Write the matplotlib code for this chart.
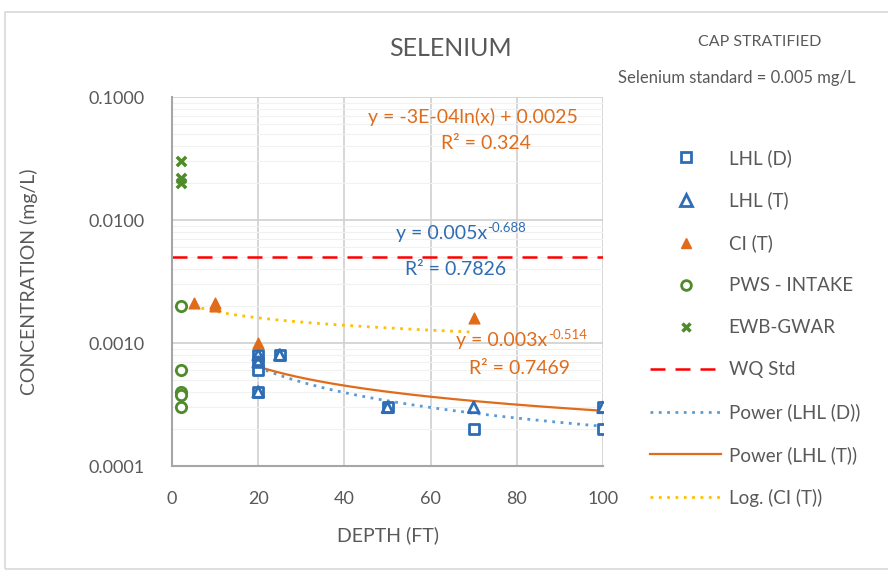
import numpy as np
import matplotlib
matplotlib.use("Agg")
import matplotlib.pyplot as plt
from matplotlib.lines import Line2D

plt.rcParams['font.family'] = ['Lato', 'DejaVu Sans']

# sample depths (ft) and selenium concentrations (mg/L)
lhl_d_depth = [20, 20, 20, 20, 25, 50, 70, 100, 100]
lhl_d_conc = [0.0008, 0.0007, 0.0006, 0.0004, 0.0008, 0.0003, 0.0002, 0.0003, 0.0002]
lhl_t_depth = [20, 20, 20, 25, 50, 70, 100]
lhl_t_conc = [0.0008, 0.0007, 0.0004, 0.0008, 0.0003, 0.0003, 0.0003]
ci_t_depth = [5, 10, 10, 20, 70]
ci_t_conc = [0.0021, 0.0021, 0.002, 0.001, 0.0016]
pws_depth = [2, 2, 2, 2, 2]
pws_conc = [0.002, 0.0006, 0.0004, 0.00038, 0.0003]
ewb_depth = [2, 2, 2]
ewb_conc = [0.03, 0.022, 0.02]
wq_std = 0.005

# trendline coefficients
pow_d = (0.005, -0.688)
pow_t = (0.003, -0.514)
log_ci = (-3e-4, 0.0025)

blue = '#2e6db4'
orange = '#e06c1b'
green = '#4f8a2b'
gray = '#595959'

fig = plt.figure(figsize=(8.88, 5.72), dpi=100)
ax = fig.add_axes([0.1937, 0.1853, 0.4854, 0.6451])

# trendlines
xd = np.linspace(20, 100, 200)
ax.plot(xd, pow_d[0] * xd ** pow_d[1], ls=(0, (1, 2)), color='#5b9bd5', lw=2)
ax.plot(xd, pow_t[0] * xd ** pow_t[1], ls='-', color=orange, lw=1.6)
xl = np.linspace(5, 70, 200)
ax.plot(xl, log_ci[0] * np.log(xl) + log_ci[1], ls=(0, (1, 2)), color='#ffc000', lw=2)
ax.axhline(wq_std, color='#ff0000', ls=(0, (6, 4)), lw=1.8)

ax.scatter(lhl_d_depth, lhl_d_conc, marker='s', s=55, facecolors='white', edgecolors=blue, linewidths=2, zorder=3)
ax.scatter(lhl_t_depth, lhl_t_conc, marker='^', s=60, facecolors='none', edgecolors=blue, linewidths=2, zorder=4)
ax.scatter(ci_t_depth, ci_t_conc, marker='^', s=60, color=orange, zorder=4)
ax.scatter(pws_depth, pws_conc, marker='o', s=55, facecolors='white', edgecolors=green, linewidths=2, zorder=3)
ax.scatter(ewb_depth, ewb_conc, marker='x', s=45, color=green, linewidths=2.5, zorder=3)

ax.set_yscale('log')
ax.set_ylim(0.0001, 0.1)
ax.set_xlim(0, 100)
ax.set_xticks([0, 20, 40, 60, 80, 100])
ax.set_yticks([0.0001, 0.001, 0.01, 0.1])
ax.set_yticklabels(['0.0001', '0.0010', '0.0100', '0.1000'])
ax.grid(True, which='major', color='#d0d0d0', lw=1.2)
ax.grid(True, which='minor', axis='y', color='#f1f1f1', lw=0.8)
ax.tick_params(which='both', length=0, labelsize=13, colors=gray)
ax.tick_params(axis='y', pad=20)
ax.tick_params(axis='x', pad=18)
for s in ['top', 'right']:
    ax.spines[s].set_visible(False)
for s in ['left', 'bottom']:
    ax.spines[s].set_color('#a6a6a6')
    ax.spines[s].set_linewidth(1.5)

ax.set_xlabel('DEPTH (FT)', fontsize=14, color=gray, labelpad=14)
ax.set_ylabel('CONCENTRATION (mg/L)', fontsize=14, color=gray, labelpad=36)


def equation(x, y, base, sup, color):
    # trendline label with a raised exponent
    t = ax.text(x, y, base, transform=ax.transAxes, ha='left', fontsize=14, color=color)
    if sup:
        ax.annotate(sup, xy=(1, 0.8), xycoords=t, ha='left', va='center', fontsize=9.5, color=color)


equation(0.455, 0.93, 'y = -3E-04ln(x) + 0.0025', '', orange)
equation(0.625, 0.86, 'R² = 0.324', '', orange)
equation(0.52, 0.615, 'y = 0.005x', '-0.688', blue)
equation(0.54, 0.518, 'R² = 0.7826', '', blue)
equation(0.66, 0.325, 'y = 0.003x', '-0.514', orange)
equation(0.69, 0.25, 'R² = 0.7469', '', orange)

fig.text(450 / 888, 1 - 48 / 572, 'SELENIUM', ha='center', va='center', fontsize=18, color=gray)
fig.text(760 / 888, 1 - 42 / 572, 'CAP STRATIFIED', ha='center', va='center', fontsize=11.5, color=gray)
fig.text(737 / 888, 1 - 78 / 572, 'Selenium standard = 0.005 mg/L', ha='center', va='center', fontsize=12, color=gray)

handles = [
    Line2D([], [], ls='none', marker='s', ms=7, mfc='white', mec=blue, mew=2),
    Line2D([], [], ls='none', marker='^', ms=8, mfc='white', mec=blue, mew=2),
    Line2D([], [], ls='none', marker='^', ms=7, color=orange),
    Line2D([], [], ls='none', marker='o', ms=7, mfc='white', mec=green, mew=2),
    Line2D([], [], ls='none', marker='x', ms=6, color=green, mew=2.5),
    Line2D([], [], color='#ff0000', ls=(0, (6, 4)), lw=1.8),
    Line2D([], [], color='#5b9bd5', ls=(0, (1, 2)), lw=2),
    Line2D([], [], color=orange, lw=1.6),
    Line2D([], [], color='#ffc000', ls=(0, (1, 2)), lw=2),
]
labels = ['LHL (D)', 'LHL (T)', 'CI (T)', 'PWS - INTAKE', 'EWB-GWAR', 'WQ Std',
          'Power (LHL (D))', 'Power (LHL (T))', 'Log. (CI (T))']
fig.legend(handles, labels, loc='upper left', bbox_to_anchor=(633 / 888, 1 - 132 / 572),
           frameon=False, fontsize=13.5, labelcolor=gray, handlelength=3.8,
           labelspacing=1.33, handletextpad=0.4)

# outer chart border
fig.patches.append(plt.Rectangle((5 / 888, 0.005), 1.0, 1 - 15 / 572, transform=fig.transFigure,
                                 fill=False, ec='#d9d9d9', lw=1.2))

fig.savefig('out.png', dpi=100)
